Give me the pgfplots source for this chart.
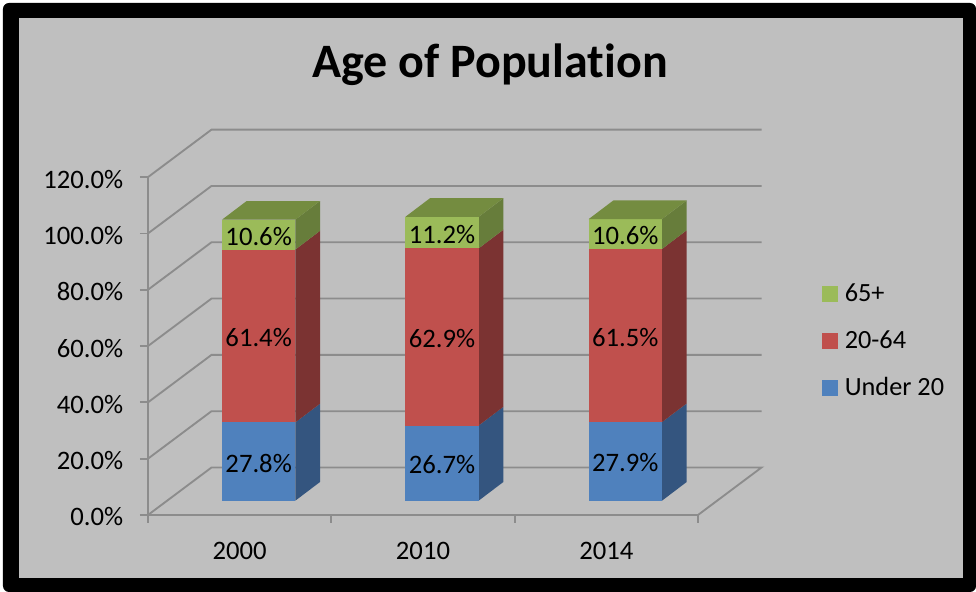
\documentclass[border=0pt]{standalone}
\usepackage{fontspec}
\setmainfont[Ligatures=NoCommon]{Carlito}
\usepackage{pgfplots}
\pgfplotsset{compat=1.18}

\definecolor{wallgray}{HTML}{BFBFBF}
\definecolor{linegray}{HTML}{8C8C8C}
\definecolor{blueF}{HTML}{4F81BD}
\definecolor{blueS}{HTML}{34557F}
\definecolor{redF}{HTML}{C0504D}
\definecolor{redS}{HTML}{7B3332}
\definecolor{greenF}{HTML}{9BBB59}
\definecolor{greenS}{HTML}{677D3B}
\definecolor{greenT}{HTML}{748C40}

\tikzset{lab/.style={font=\fontsize{20}{22}\selectfont,text=black,inner sep=0pt,yshift=-1.1pt}}

% one stacked slice: x, low, high, front colour, side colour
\newcommand{\slice}[5]{%
  \pgfmathsetmacro{\xl}{#1-0.0964}%
  \pgfmathsetmacro{\xr}{#1+0.3035}%
  \pgfmathsetmacro{\xb}{#1+0.4382}%
  \pgfmathsetmacro{\ylo}{#2+5.08}%
  \pgfmathsetmacro{\yhi}{#3+5.08}%
  \pgfmathsetmacro{\ylob}{#2+11.72}%
  \pgfmathsetmacro{\yhib}{#3+11.72}%
  \edef\tmp{\noexpand\addplot[fill=#5,draw=none,forget plot] coordinates {(\xr,\ylo) (\xb,\ylob) (\xb,\yhib) (\xr,\yhi)};}\tmp
  \edef\tmp{\noexpand\addplot[fill=#4,draw=none,forget plot] coordinates {(\xl,\ylo) (\xr,\ylo) (\xr,\yhi) (\xl,\yhi)};}\tmp
}
\newcommand{\seglabel}[4]{%
  \pgfmathsetmacro{\cx}{#1+0.1036}%
  \pgfmathsetmacro{\cy}{(#2+#3)/2+5.08}%
  \edef\tmp{\noexpand\node[lab] at (axis cs:\cx,\cy) {#4\noexpand\%};}\tmp
}
% x, under 20, 20-64, 65+
\newcommand{\agebar}[4]{%
  \pgfmathsetmacro{\cuma}{#2}%
  \pgfmathsetmacro{\cumb}{#2+#3}%
  \pgfmathsetmacro{\cumc}{#2+#3+#4}%
  \slice{#1}{0}{\cuma}{blueF}{blueS}%
  \slice{#1}{\cuma}{\cumb}{redF}{redS}%
  \slice{#1}{\cumb}{\cumc}{greenF}{greenS}%
  \pgfmathsetmacro{\xl}{#1-0.0964}%
  \pgfmathsetmacro{\xr}{#1+0.3035}%
  \pgfmathsetmacro{\xb}{#1+0.4382}%
  \pgfmathsetmacro{\xc}{#1+0.0383}%
  \pgfmathsetmacro{\yhi}{\cumc+5.08}%
  \pgfmathsetmacro{\yhib}{\cumc+11.72}%
  \edef\tmp{\noexpand\addplot[fill=greenT,draw=none,forget plot] coordinates {(\xl,\yhi) (\xr,\yhi) (\xb,\yhib) (\xc,\yhib)};}\tmp
  \seglabel{#1}{0}{\cuma}{#2}%
  \seglabel{#1}{\cuma}{\cumb}{#3}%
  \seglabel{#1}{\cumb}{\cumc}{#4}%
}

\begin{document}
\begin{tikzpicture}
  % frame, in picture pixels
  \begin{scope}[xshift=-111pt,yshift=386.25pt,x=0.75pt,y=-0.75pt]
    \fill[white] (0,0) rectangle (976,592);
    \fill[black,rounded corners=4.5pt] (3,3) rectangle (976,592);
    \fill[wallgray] (19,18) rectangle (963,578);
  \end{scope}
  \begin{axis}[
    at={(0,0)},anchor=south west,
    scale only axis,
    width=412.5pt,height=253.4pt,
    xmin=-0.5,xmax=2.5,ymin=0,ymax=120,
    clip=false,
    axis x line*=bottom,axis y line*=left,
    axis line style={-,linegray,line width=1.4pt},
    tick style={linegray,line width=1.4pt},
    major tick length=6pt,
    tick align=outside,
    xtick={-0.5,0.5,1.5,2.5},xticklabels={},
    extra x ticks={0,1,2},
    extra x tick labels={2000,2010,2014},
    extra x tick style={major tick length=0pt,tick style={draw=none},
      xticklabel style={yshift=-16.5pt}},
    ytick={0,20,40,60,80,100,120},
    yticklabels={0.0\%,20.0\%,40.0\%,60.0\%,80.0\%,100.0\%,120.0\%},
    tick label style={font=\fontsize{20}{22}\selectfont,text=black},
    yticklabel style={xshift=-9pt,yshift=-1.5pt},
    title={\textbf{Age of Population}},
    title style={font=\fontsize{36}{40}\selectfont,at={(rel axis cs:0.6218,1.308)},anchor=center},
    legend image code/.code={\fill[#1] (0pt,-5.6pt) rectangle (11.25pt,5.6pt);},
    legend cell align=left,
    legend style={draw=none,fill=none,at={(rel axis cs:1.2255,0.515)},anchor=west,inner sep=0pt,
      row sep=20.3pt,font=\fontsize{19.7}{22}\selectfont,
      nodes={inner sep=0pt,anchor=west}},
  ]
    % walls: left diagonal, then the line along the back
    \addplot[linegray,line width=1.4pt,forget plot] coordinates {(-0.5,0) (-0.1536,16.87) (2.8464,16.87) (2.5,0)};
    \addplot[linegray,line width=1.4pt,forget plot] coordinates {(-0.5,20) (-0.1536,36.87) (2.8464,36.87)};
    \addplot[linegray,line width=1.4pt,forget plot] coordinates {(-0.5,40) (-0.1536,56.87) (2.8464,56.87)};
    \addplot[linegray,line width=1.4pt,forget plot] coordinates {(-0.5,60) (-0.1536,76.87) (2.8464,76.87)};
    \addplot[linegray,line width=1.4pt,forget plot] coordinates {(-0.5,80) (-0.1536,96.87) (2.8464,96.87)};
    \addplot[linegray,line width=1.4pt,forget plot] coordinates {(-0.5,100) (-0.1536,116.87) (2.8464,116.87)};
    \addplot[linegray,line width=1.4pt,forget plot] coordinates {(-0.5,120) (-0.1536,136.87) (2.8464,136.87)};

    \agebar{0}{27.8}{61.4}{10.6}
    \agebar{1}{26.7}{62.9}{11.2}
    \agebar{2}{27.9}{61.5}{10.6}

    \addlegendimage{greenF}\addlegendentry{\hspace{5.25pt}65+}
    \addlegendimage{redF}\addlegendentry{\hspace{5.25pt}20-64}
    \addlegendimage{blueF}\addlegendentry{\hspace{5.25pt}Under 20}
  \end{axis}
\end{tikzpicture}
\end{document}
